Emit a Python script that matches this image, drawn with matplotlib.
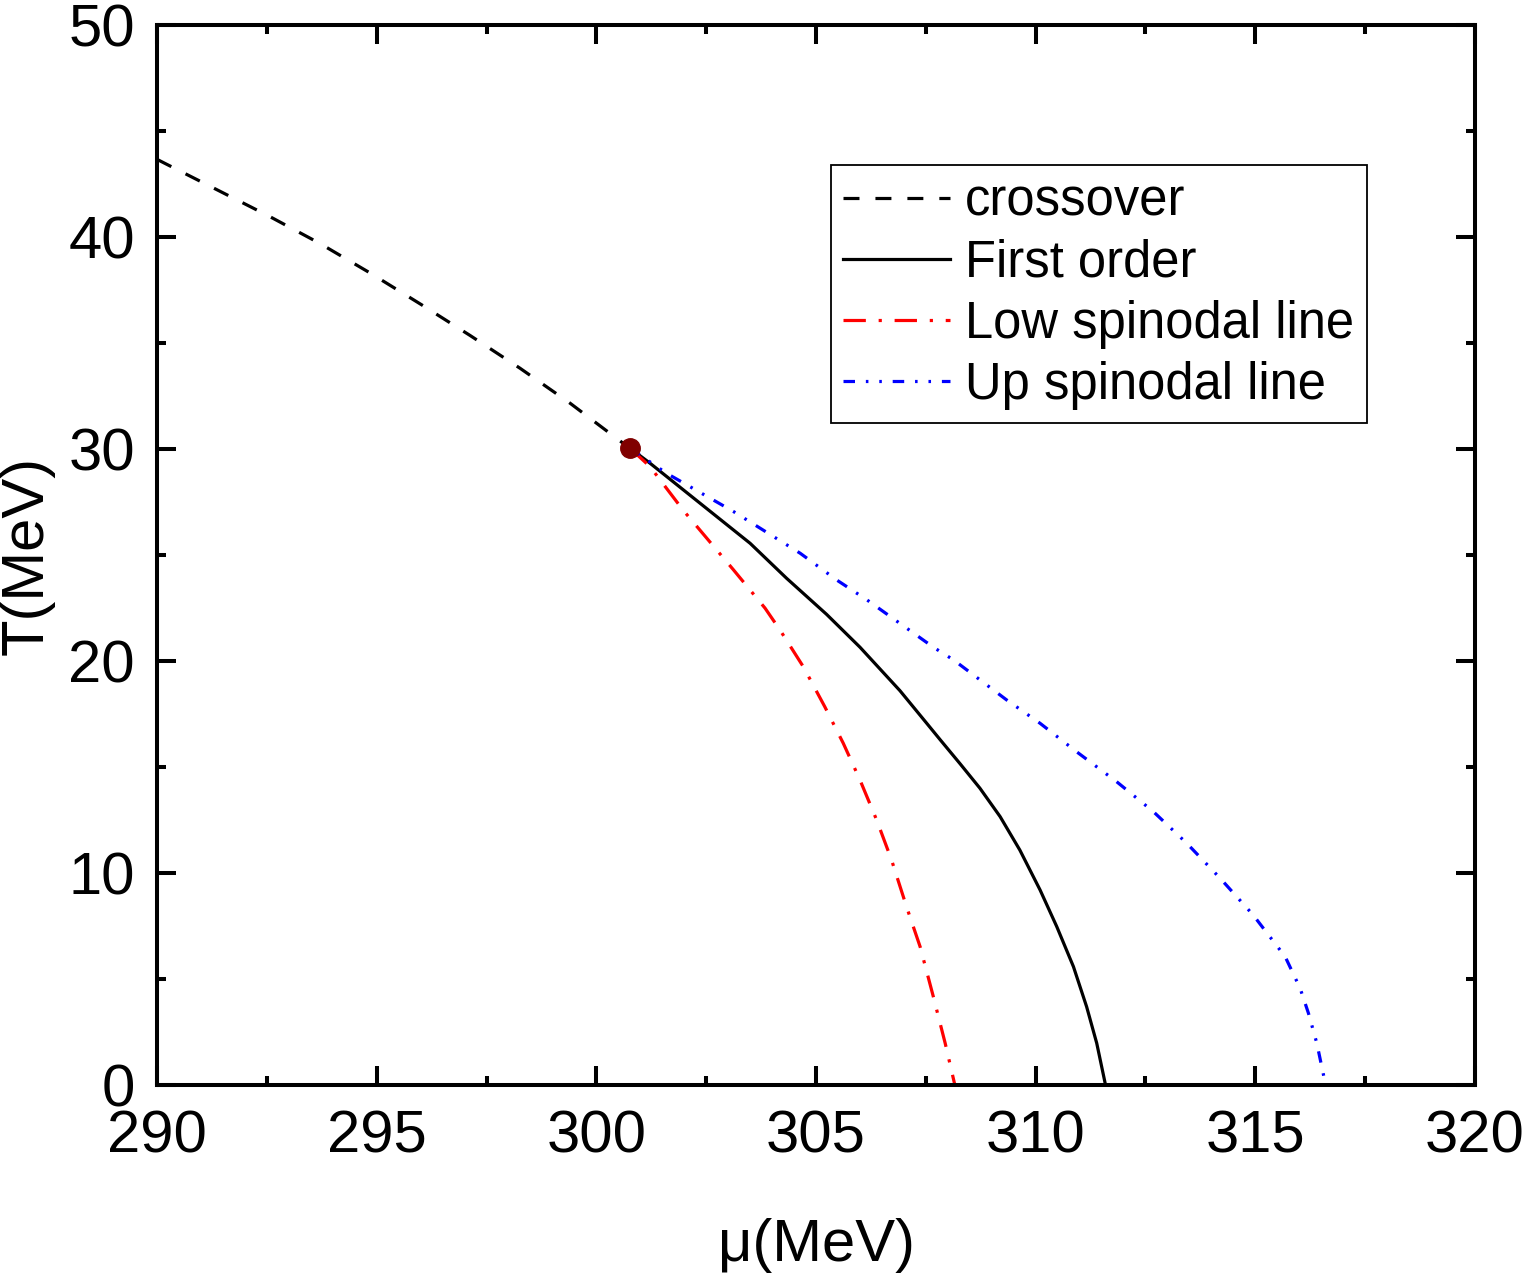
import matplotlib.pyplot as plt
from matplotlib.ticker import MultipleLocator

plt.rcParams['font.family'] = ['Liberation Sans', 'DejaVu Sans']

# crossover (dashed)
mu_cross = [290.0, 290.16, 291.37, 292.54, 293.70, 294.85, 296.03, 297.12,
            298.26, 299.40, 300.53, 300.77]
T_cross = [43.66, 43.49, 42.22, 40.99, 39.70, 38.30, 36.79, 35.36,
           33.81, 32.16, 30.39, 30.03]

# first order line (solid)
mu_first = [300.77, 301.22, 302.36, 303.50, 304.33, 305.24, 306.00, 306.91,
            307.52, 307.82, 308.28, 308.73, 309.19, 309.64, 310.10, 310.48,
            310.86, 311.16, 311.39, 311.59]
T_first = [30.03, 29.33, 27.44, 25.55, 23.9, 22.2, 20.65, 18.60,
           17.06, 16.3, 15.15, 14.0, 12.66, 11.08, 9.20, 7.47,
           5.58, 3.69, 1.97, 0.0]

# low spinodal line
mu_low = [300.77, 301.22, 301.98, 303.12, 303.84, 304.18, 304.71, 305.20,
          305.62, 306.00, 306.38, 306.72, 307.06, 307.37, 307.67, 307.94, 308.16]
T_low = [30.03, 29.17, 27.10, 24.30, 22.49, 21.46, 19.73, 17.84,
         16.12, 14.39, 12.50, 10.61, 8.41, 6.52, 4.17, 1.97, 0.0]

# up spinodal line
mu_up = [300.77, 301.60, 303.12, 304.64, 305.47, 306.16, 307.67, 308.13,
         309.34, 310.10, 310.93, 311.84, 312.68, 313.44, 314.20, 314.95,
         315.68, 316.02, 316.21, 316.40, 316.60]
T_up = [30.03, 28.85, 27.05, 25.08, 23.82, 22.88, 20.65, 20.05,
        18.16, 17.06, 15.72, 14.31, 12.89, 11.40, 9.75, 8.02,
        6.05, 4.56, 3.38, 1.97, 0.0]

# critical end point
mu_cep = [300.77]
T_cep = [30.03]

fig = plt.figure(figsize=(15.22, 12.73), dpi=100)
ax = fig.add_axes([0.1032, 0.1477, 0.8659, 0.8327])

lw = 2.3
ax.plot(mu_cross, T_cross, color='black', lw=lw, dashes=(5, 5), label='crossover')
ax.plot(mu_first, T_first, color='black', lw=lw, label='First order')
ax.plot(mu_low, T_low, color='red', lw=lw, dashes=(7, 4, 1, 4),
        label='Low spinodal line')
ax.plot(mu_up, T_up, color='blue', lw=lw, dashes=(3.6, 3.4, 0.8, 3.4, 0.8, 3.4),
        label='Up spinodal line')
ax.plot(mu_cep, T_cep, 'o', color='#800000', ms=14, zorder=5)

ax.set_xlim(290, 320)
ax.set_ylim(0, 50)
ax.xaxis.set_major_locator(MultipleLocator(5))
ax.xaxis.set_minor_locator(MultipleLocator(2.5))
ax.yaxis.set_major_locator(MultipleLocator(10))
ax.yaxis.set_minor_locator(MultipleLocator(5))

for s in ax.spines.values():
    s.set_linewidth(2.9)
ax.tick_params(which='both', direction='in', top=True, right=True, width=2.9)
ax.tick_params(which='major', length=13.5, labelsize=43)
ax.tick_params(which='minor', length=6.5)
ax.tick_params(axis='x', which='major', pad=18)
ax.tick_params(axis='y', which='major', pad=16)

ax.set_xlabel('μ(MeV)', fontsize=43, labelpad=38)
ax.set_ylabel('T(MeV)', fontsize=43, labelpad=10)

leg = ax.legend(loc='upper left', bbox_to_anchor=(0.511, 0.868), fontsize=36.5,
                frameon=True, fancybox=False, edgecolor='black', framealpha=1,
                handlelength=2.1, handletextpad=0.3, labelspacing=0.24,
                borderpad=0.25, borderaxespad=0)
leg.get_frame().set_linewidth(1.3)

fig.savefig('out.png', dpi=100)
